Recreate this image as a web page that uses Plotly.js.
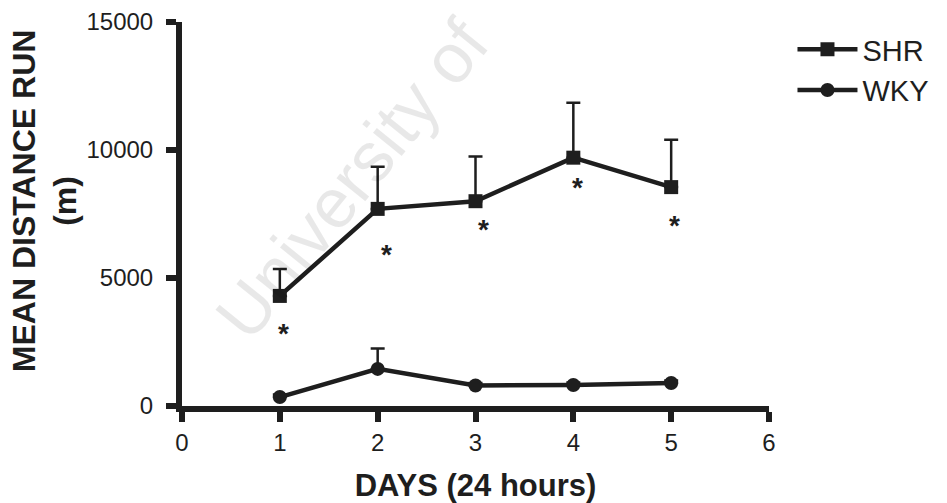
<!DOCTYPE html>
<html>
<head>
<meta charset="utf-8">
<script src="https://cdn.plot.ly/plotly-3.0.1.min.js"></script>
<style>
  html, body { margin: 0; padding: 0; background: #ffffff; }
  #chart { width: 947px; height: 503px; }
</style>
</head>
<body>
<div id="chart"></div>
<script>
// ---- data ----
const days = [1, 2, 3, 4, 5];
const shrMean = [4300, 7700, 8000, 9700, 8550];
const shrErr  = [1050, 1650, 1750, 2150, 1850];
const wkyMean = [350, 1450, 800, 820, 900];
const wkyErr  = [100, 800, 100, 100, 100];
// significance markers (asterisks) positions
const sigX = [1.04, 2.09, 3.08, 4.04, 5.03];
const sigY = [3090, 6210, 7150, 8790, 7340];
const xTicks = [0, 1, 2, 3, 4, 5, 6];
const yTicks = [0, 5000, 10000, 15000];

const ink = '#1e1e1e';
const FONT = 'Liberation Sans, Arial, sans-serif';

const traces = [
  {
    x: days, y: shrMean, name: 'SHR', type: 'scatter', mode: 'lines+markers',
    line: { color: ink, width: 4.5 },
    marker: { symbol: 'square', size: 14, color: ink },
    error_y: { type: 'data', symmetric: false, array: shrErr, arrayminus: days.map(() => 0),
               color: ink, thickness: 2.5, width: 7 }
  },
  {
    x: days, y: wkyMean, name: 'WKY', type: 'scatter', mode: 'lines+markers',
    line: { color: ink, width: 4.5 },
    marker: { symbol: 'circle', size: 14, color: ink },
    error_y: { type: 'data', symmetric: false, array: wkyErr, arrayminus: days.map(() => 0),
               color: ink, thickness: 2.5, width: 7 }
  }
];

const annotations = sigX.map((x, i) => ({
  x: x, y: sigY[i], xref: 'x', yref: 'y', text: '<b>*</b>', showarrow: false,
  yshift: -7, font: { family: FONT, size: 28, color: ink }
}));

// y-axis title, placed as in the reference (slightly above the plot centre)
annotations.push({
  xref: 'paper', yref: 'paper', x: -0.2334, y: 0.536, xanchor: 'center', yanchor: 'middle',
  text: '<b>MEAN DISTANCE RUN<br>(m)</b>', textangle: -90, showarrow: false,
  font: { family: FONT, size: 32, color: ink }
});

// faint watermark present in the scanned reference
annotations.push({
  xref: 'paper', yref: 'paper', x: 0.29, y: 0.592, xanchor: 'center', yanchor: 'middle',
  text: 'University of', textangle: -51, showarrow: false,
  font: { family: FONT, size: 70, color: 'rgba(0,0,0,0.09)' }
});

const layout = {
  width: 947, height: 503,
  margin: { l: 182, r: 178, t: 22, b: 97 },
  paper_bgcolor: '#ffffff', plot_bgcolor: '#ffffff',
  font: { family: FONT, color: ink },
  showlegend: true,
  legend: {
    x: 1.04, y: 0.995, xanchor: 'left', yanchor: 'top',
    font: { family: FONT, size: 29, color: ink },
    itemwidth: 60, tracegroupgap: 2, bgcolor: 'rgba(0,0,0,0)'
  },
  xaxis: {
    range: [0, 6], tickvals: xTicks, ticktext: xTicks.map(String),
    showgrid: false, zeroline: false,
    showline: true, linecolor: ink, linewidth: 6,
    ticks: 'outside', ticklen: 10, tickwidth: 6, tickcolor: ink,
    tickfont: { family: FONT, size: 24, color: ink },
    ticklabelstandoff: 0,
    title: { text: '<b>DAYS (24 hours)</b>', font: { family: FONT, size: 31, color: ink }, standoff: 24 }
  },
  yaxis: {
    range: [0, 15000], tickvals: yTicks, ticktext: yTicks.map(String),
    showgrid: false, zeroline: false,
    showline: true, linecolor: ink, linewidth: 6,
    ticks: 'outside', ticklen: 10, tickwidth: 6, tickcolor: ink,
    tickfont: { family: FONT, size: 24, color: ink },
    ticklabelstandoff: 8
  },
  annotations: annotations
};

Plotly.newPlot('chart', traces, layout, { displayModeBar: false, staticPlot: true });
</script>
</body>
</html>
